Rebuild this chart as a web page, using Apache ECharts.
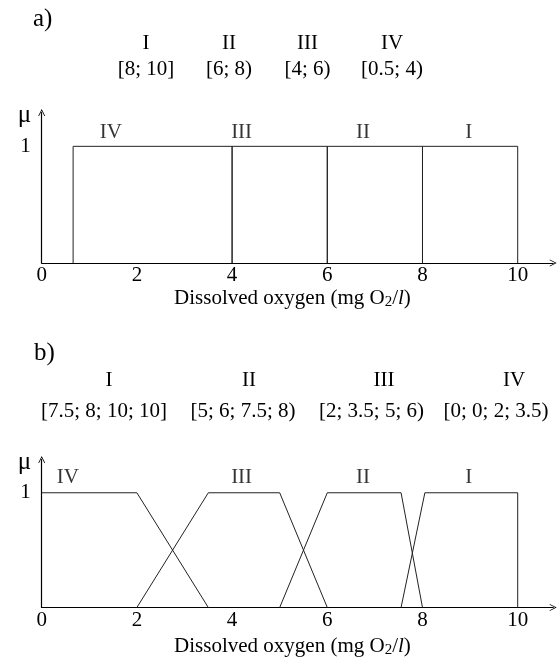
<!DOCTYPE html>
<html>
<head>
<meta charset="utf-8">
<script src="https://cdn.jsdelivr.net/npm/echarts@6/dist/echarts.min.js"></script>
<style>
  html, body { margin: 0; padding: 0; background: #fff; }
  #myChart { width: 560px; height: 659px; }
</style>
</head>
<body>
<div id="myChart"></div>
<script>
// class names and their DO ranges
var classes = ['I', 'II', 'III', 'IV'];
var rangesA = ['[8; 10]', '[6; 8)', '[4; 6)', '[0.5; 4)'];
var rangesB = ['[7.5; 8; 10; 10]', '[5; 6; 7.5; 8)', '[2; 3.5; 5; 6)', '[0; 0; 2; 3.5)'];
var xTicks = [0, 2, 4, 6, 8, 10];

// a) crisp sets
var crispIV = [[0.66, 0], [0.66, 1], [4, 1], [4, 0]];
var crispIII = [[4, 0], [4, 1], [6, 1], [6, 0]];
var crispII = [[6, 0], [6, 1], [8, 1], [8, 0]];
var crispI = [[8, 0], [8, 1], [10, 1], [10, 0]];

// b) fuzzy sets
var fuzzyIV = [[0, 1], [2, 1], [3.5, 0]];
var fuzzyIII = [[2, 0], [3.5, 1], [5, 1], [6, 0]];
var fuzzyII = [[5, 0], [6, 1], [7.55, 1], [8, 0]];
var fuzzyI = [[7.55, 0], [8.05, 1], [10, 1], [10, 0]];

// labels over the curves
var tagsA = [[1.45, 1.12, 'IV'], [4.2, 1.12, 'III'], [6.75, 1.12, 'II'], [8.97, 1.12, 'I']];
var tagsB = [[0.55, 1.13, 'IV'], [4.2, 1.13, 'III'], [6.75, 1.13, 'II'], [8.97, 1.13, 'I']];

var serif = "'Liberation Serif', 'Times New Roman', serif";
var fs = 21;

// header layout (pixels)
var headA = { x: [146, 229, 307.5, 392], yName: 43, yRange: 69 };
var headB = { x: [109, 249, 384, 514], xRange: [104, 243, 371.5, 496], yName: 380.5, yRange: 411.5 };

var chevron = 'path://M0,10 L5,0 L10,10 L8.8,10 L5,2.4 L1.2,10 Z';

function txt(s, x, y, size) {
  return {
    type: 'text', x: x, y: y, silent: true,
    style: { text: s, fontSize: size || fs, fontFamily: serif, fill: '#000', align: 'center', verticalAlign: 'middle' }
  };
}

var graphics = [];
graphics.push({ type: 'text', x: 33, y: 19, style: { text: 'a)', fontSize: 25, fontFamily: serif, fill: '#000', verticalAlign: 'middle' } });
graphics.push({ type: 'text', x: 34, y: 353, style: { text: 'b)', fontSize: 25, fontFamily: serif, fill: '#000', verticalAlign: 'middle' } });
classes.forEach(function (c, i) {
  graphics.push(txt(c, headA.x[i], headA.yName));
  graphics.push(txt(rangesA[i], headA.x[i], headA.yRange));
  graphics.push(txt(c, headB.x[i], headB.yName));
  graphics.push(txt(rangesB[i], headB.xRange[i], headB.yRange));
});

function xAx(idx, gap) {
  return {
    type: 'value', gridIndex: idx, min: 0, max: 10.746, interval: 2,
    axisLine: { lineStyle: { color: '#000', width: 1.2 }, symbol: ['none', chevron], symbolSize: [9, 7] },
    axisTick: { show: false },
    splitLine: { show: false },
    axisLabel: {
      margin: 2, color: '#000', fontSize: fs, fontFamily: serif,
      formatter: function (v) { return xTicks.indexOf(v) >= 0 ? String(v) : ''; }
    },
    name: '{t|Dissolved oxygen (mg O}{s|2}{t|/}{i|l}{t|)}',
    nameLocation: 'middle', nameGap: gap,
    nameTextStyle: {
      verticalAlign: 'middle', padding: [0, 10, 0, 0],
      rich: {
        t: { fontSize: fs, fontFamily: serif, color: '#000' },
        s: { fontSize: 15, fontFamily: serif, color: '#000', padding: [9, 0, 0, 0] },
        i: { fontSize: fs, fontFamily: serif, fontStyle: 'italic', color: '#000' }
      }
    }
  };
}

function yAx(idx) {
  return {
    type: 'value', gridIndex: idx, min: 0, max: 1.29, interval: 1,
    axisLine: { show: true, lineStyle: { color: '#000', width: 1.2 }, symbol: ['none', chevron], symbolSize: [9, 7] },
    axisTick: { show: false },
    splitLine: { show: false },
    axisLabel: {
      margin: 11, color: '#000', fontSize: fs, fontFamily: serif, padding: [9, 0, 0, 0],
      formatter: function (v) { return v === 1 ? '1' : ''; }
    },
    name: 'μ', nameLocation: 'end', nameGap: -2.5,
    nameTextStyle: { align: 'right', verticalAlign: 'middle', padding: [0, 10.5, 0, 0], color: '#000', fontSize: 25, fontFamily: serif }
  };
}

function line(data, idx) {
  return {
    type: 'line', xAxisIndex: idx, yAxisIndex: idx, data: data,
    showSymbol: false, symbol: 'none', silent: true,
    lineStyle: { color: '#222', width: 1 }
  };
}

function tags(data, idx) {
  return {
    type: 'scatter', xAxisIndex: idx, yAxisIndex: idx, data: data, symbolSize: 0, silent: true,
    label: {
      show: true, position: 'inside', color: '#000', fontSize: fs, fontFamily: serif,
      formatter: function (p) { return p.value[2]; }
    }
  };
}

var myChart = echarts.init(document.getElementById('myChart'));
myChart.setOption({
  animation: false,
  backgroundColor: '#fff',
  grid: [
    { left: 41.7, top: 112.5, width: 511.5, height: 150.5 },
    { left: 41.7, top: 459.5, width: 511.5, height: 148.8 }
  ],
  xAxis: [xAx(0, 35), xAx(1, 38.5)],
  yAxis: [yAx(0), yAx(1)],
  graphic: graphics,
  series: [
    line(crispIV, 0), line(crispIII, 0), line(crispII, 0), line(crispI, 0),
    line(fuzzyIV, 1), line(fuzzyIII, 1), line(fuzzyII, 1), line(fuzzyI, 1),
    tags(tagsA, 0), tags(tagsB, 1)
  ]
});
</script>
</body>
</html>
